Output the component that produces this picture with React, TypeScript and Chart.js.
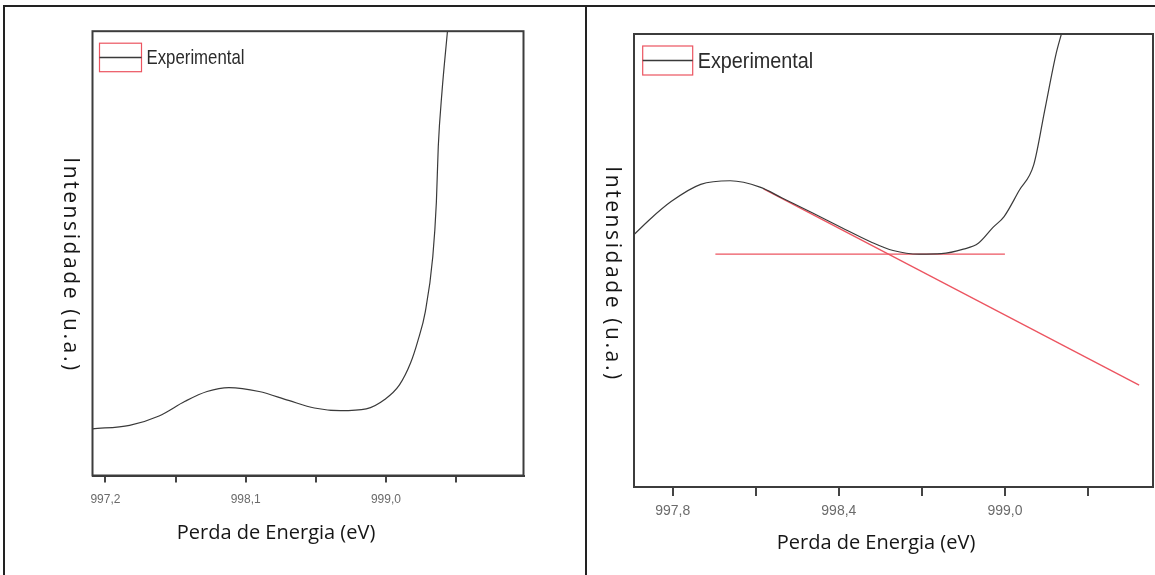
import React, { useEffect, useRef } from 'react';
import { Chart, registerables } from 'chart.js';

Chart.register(...registerables);

// ---------- data ----------
const legendLabel = 'Experimental';
const xTitle = 'Perda de Energia (eV)';
const yTitle = 'Intensidade (u.a.)';

// left panel
const leftEnergy = [997.117, 997.355, 997.544, 997.711, 997.852, 997.993, 998.186, 998.375, 998.541, 998.707, 998.874, 998.992, 999.087, 999.158, 999.205, 999.253, 999.301, 999.324, 999.336, 999.36, 999.395];
const leftIntensity = [10.5, 11.3, 13.4, 16.7, 18.9, 19.8, 18.9, 16.9, 15.2, 14.6, 15.0, 17.1, 20.4, 25.3, 30.3, 36.9, 49.3, 61.6, 74.0, 86.4, 100];
const leftTickValues = [997.2, 997.65, 998.1, 998.55, 999.0, 999.45];
const leftTickLabels = ['997,2', '', '998,1', '', '999,0', ''];
const leftRange = [997.117, 999.883];

// right panel
const rightEnergy = [997.66, 997.714, 997.794, 997.901, 998.008, 998.115, 998.195, 998.302, 998.409, 998.516, 998.596, 998.69, 998.77, 998.85, 998.904, 998.957, 998.997, 999.051, 999.104, 999.144, 999.184, 999.204];
const rightIntensity = [55.7, 58.9, 63.0, 66.8, 67.6, 66.2, 63.8, 60.6, 57.3, 54.1, 52.2, 51.4, 51.5, 52.5, 53.8, 57.3, 59.7, 65.4, 71.1, 83.2, 95.4, 100];
const baselineEnergy = [997.954, 999.0];
const baselineIntensity = [51.4, 51.4];
const tangentEnergy = [998.128, 999.485];
const tangentIntensity = [65.8, 22.5];
const rightTickValues = [997.8, 998.1, 998.4, 998.7, 999.0, 999.3];
const rightTickLabels = ['997,8', '', '998,4', '', '999,0', ''];
const rightRange = [997.66, 999.535];

const toPoints = (xs: number[], ys: number[]) => xs.map((x, i) => ({ x, y: ys[i] }));

const CURVE = '#3a3a3a';
const RED = 'rgb(236, 84, 96)';

type PanelProps = {
  left: number;
  width: number;
  padding: { left: number; right: number; top: number; bottom: number };
  axisHeight: number;
  range: number[];
  tickValues: number[];
  tickLabels: string[];
  tickFont: number;
  tickLength: number;
  tickPadding: number;
  datasets: any[];
  legend: { dx: number; dy: number; w: number; h: number; tx: number; size: number; sx: number };
};

const framePlugin = {
  id: 'frameBox',
  afterDraw(chart: any) {
    const { ctx, chartArea } = chart;
    ctx.save();
    ctx.strokeStyle = '#3c3c3c';
    ctx.lineWidth = 2;
    ctx.strokeRect(chartArea.left, chartArea.top, chartArea.right - chartArea.left, chartArea.bottom - chartArea.top);
    ctx.restore();
  },
};

function Panel(p: PanelProps) {
  const ref = useRef<HTMLCanvasElement | null>(null);
  useEffect(() => {
    if (!ref.current) return;
    const legendPlugin = {
      id: 'boxLegend',
      afterDraw(chart: any) {
        const { ctx, chartArea } = chart;
        const L = p.legend;
        const bx = chartArea.left + L.dx;
        const by = chartArea.top + L.dy;
        ctx.save();
        ctx.strokeStyle = RED;
        ctx.lineWidth = 1.2;
        ctx.strokeRect(bx, by, L.w, L.h);
        ctx.strokeStyle = CURVE;
        ctx.lineWidth = 1.4;
        ctx.beginPath();
        ctx.moveTo(bx, by + L.h / 2);
        ctx.lineTo(bx + L.w, by + L.h / 2);
        ctx.stroke();
        ctx.translate(bx + L.w + L.tx, by + L.h / 2);
        ctx.scale(L.sx, 1);
        ctx.fillStyle = '#2b2b2b';
        ctx.font = `${L.size}px "Liberation Sans", Arial, sans-serif`;
        ctx.textBaseline = 'middle';
        ctx.textAlign = 'left';
        ctx.fillText(legendLabel, 0, 1);
        ctx.restore();
      },
    };
    const chart = new Chart(ref.current, {
      type: 'line',
      data: { datasets: p.datasets },
      options: {
        animation: false,
        responsive: false,
        devicePixelRatio: 1,
        layout: { padding: p.padding },
        plugins: { legend: { display: false }, tooltip: { enabled: false } },
        elements: { point: { radius: 0 } },
        scales: {
          x: {
            type: 'linear',
            min: p.range[0],
            max: p.range[1],
            afterBuildTicks: (scale: any) => {
              scale.ticks = p.tickValues.map((v) => ({ value: v }));
            },
            afterFit: (scale: any) => {
              scale.height = p.axisHeight;
            },
            ticks: {
              autoSkip: false,
              maxRotation: 0,
              padding: p.tickPadding,
              color: '#6b6b6b',
              font: { family: '"Liberation Sans", Arial, sans-serif', size: p.tickFont },
              callback: (_v: any, i: number) => p.tickLabels[i],
            },
            grid: {
              drawOnChartArea: false,
              drawTicks: true,
              tickLength: p.tickLength,
              color: '#444',
              lineWidth: 2,
            },
            border: { display: true, color: '#3c3c3c', width: 2 },
          },
          y: { type: 'linear', min: 0, max: 100, display: false },
        },
      },
      plugins: [framePlugin, legendPlugin],
    } as any);
    return () => chart.destroy();
  }, []);
  return (
    <canvas
      ref={ref}
      width={p.width}
      height={575}
      style={{ position: 'absolute', left: p.left, top: 0, width: p.width, height: 575 }}
    />
  );
}

const lineStyle = (color: string, w: number) => ({
  borderColor: color,
  borderWidth: w,
  pointRadius: 0,
  fill: false,
});

export default function App() {
  const leftDatasets = [
    { label: legendLabel, data: toPoints(leftEnergy, leftIntensity), cubicInterpolationMode: 'monotone', ...lineStyle(CURVE, 1.2) },
  ];
  const rightDatasets = [
    { label: legendLabel, data: toPoints(rightEnergy, rightIntensity), cubicInterpolationMode: 'monotone', ...lineStyle(CURVE, 1.2) },
    { label: 'base', data: toPoints(baselineEnergy, baselineIntensity), ...lineStyle(RED, 1.3) },
    { label: 'tangente', data: toPoints(tangentEnergy, tangentIntensity), ...lineStyle(RED, 1.3) },
  ];
  const titleX: React.CSSProperties = {
    position: 'absolute',
    transform: 'translate(-50%, -50%)',
    fontFamily: '"Open Sans", sans-serif',
    fontSize: 20,
    color: '#151515',
    whiteSpace: 'nowrap',
    lineHeight: 1,
  };
  const titleY: React.CSSProperties = {
    position: 'absolute',
    transform: 'translate(-50%, -50%)',
    writingMode: 'vertical-rl',
    fontFamily: '"Open Sans", sans-serif',
    fontSize: 21,
    letterSpacing: 2.6,
    color: '#151515',
    whiteSpace: 'nowrap',
    lineHeight: 1,
  };
  return (
    <div style={{ position: 'fixed', left: 0, top: 0, width: 1155, height: 575, background: '#fff', overflow: 'hidden' }}>
      <Panel
        left={0}
        width={580}
        padding={{ left: 92.5, right: 56.5, top: 31.2, bottom: 575 - 475.5 - 40 }}
        axisHeight={40}
        range={leftRange}
        tickValues={leftTickValues}
        tickLabels={leftTickLabels}
        tickFont={12}
        tickLength={7}
        tickPadding={10}
        datasets={leftDatasets}
        legend={{ dx: 7, dy: 12, w: 42, h: 28.5, tx: 5, size: 21, sx: 0.8 }}
      />
      <Panel
        left={585}
        width={570}
        padding={{ left: 49, right: 2, top: 34, bottom: 575 - 487 - 40 }}
        axisHeight={40}
        range={rightRange}
        tickValues={rightTickValues}
        tickLabels={rightTickLabels}
        tickFont={14}
        tickLength={9}
        tickPadding={7}
        datasets={rightDatasets}
        legend={{ dx: 8.7, dy: 12, w: 50, h: 29, tx: 5, size: 22, sx: 0.9 }}
      />
      <div style={{ ...titleX, left: 276, top: 532 }}>{xTitle}</div>
      <div style={{ ...titleX, left: 876, top: 542 }}>{xTitle}</div>
      <div style={{ ...titleY, left: 71, top: 265 }}>{yTitle}</div>
      <div style={{ ...titleY, left: 613, top: 274 }}>{yTitle}</div>
      <div style={{ position: 'absolute', left: 3, top: 5, width: 1152, height: 2, background: '#222' }} />
      <div style={{ position: 'absolute', left: 3, top: 5, width: 2, height: 570, background: '#222' }} />
      <div style={{ position: 'absolute', left: 585, top: 5, width: 2, height: 570, background: '#222' }} />
    </div>
  );
}
